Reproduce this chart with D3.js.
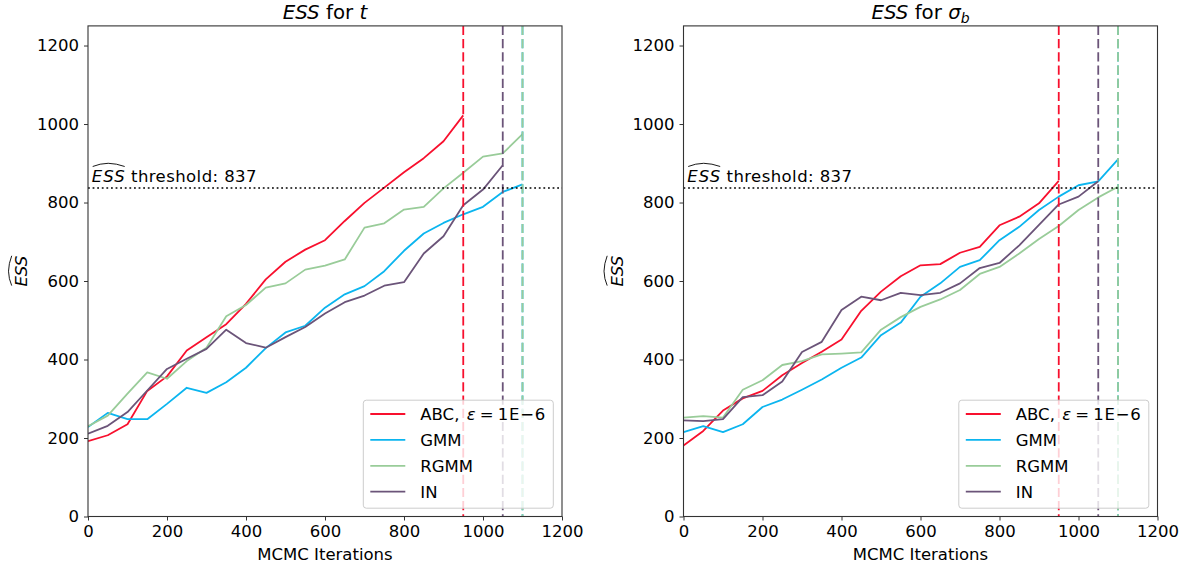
<!DOCTYPE html>
<html>
<head>
<meta charset="utf-8">
<script src="https://cdn.jsdelivr.net/npm/d3@7"></script>
<style>
  body { margin: 0; background: #fff; }
  text { font-family: "DejaVu Sans", sans-serif; fill: #000; }
</style>
</head>
<body>
<svg id="chart" width="1192" height="572"></svg>
<script>
// MCMC iteration grid shared by all runs
const iterations = [0, 50, 100, 150, 200, 250, 300, 350, 400, 450, 500, 550,
                    600, 650, 700, 750, 800, 850, 900, 950, 1000, 1050, 1100];

const methods = ["ABC", "GMM", "RGMM", "IN"];
const methodColors = ["#f8102e", "#0bb5ef", "#99cc99", "#6b5479"];
const stopIteration = [950, 1100, 1100, 1050];
const essThreshold = 837;

// ESS estimates for parameter t
const essT_ABC  = [192, 207, 235, 320, 357, 423, 457, 490, 542, 604, 649, 680, 704, 753, 799, 838, 877, 913, 956, 1022];
const essT_GMM  = [228, 264, 248, 248, 287, 328, 315, 342, 379, 429, 469, 486, 532, 566, 587, 625, 677, 721, 748, 770, 789, 827, 846];
const essT_RGMM = [230, 257, 313, 367, 351, 396, 430, 510, 539, 583, 594, 629, 639, 655, 736, 747, 782, 789, 836, 876, 917, 925, 974];
const essT_IN   = [211, 231, 266, 321, 376, 402, 427, 476, 442, 430, 457, 483, 517, 546, 563, 588, 597, 670, 714, 793, 833, 895];

// ESS estimates for parameter sigma_b
const essS_ABC  = [181, 218, 270, 301, 320, 360, 391, 420, 451, 524, 573, 612, 640, 643, 672, 687, 742, 764, 798, 855];
const essS_GMM  = [215, 230, 215, 235, 279, 298, 323, 349, 379, 405, 462, 494, 560, 594, 636, 653, 704, 738, 781, 815, 844, 854, 910];
const essS_RGMM = [252, 256, 252, 323, 347, 386, 396, 413, 415, 418, 476, 508, 534, 553, 577, 618, 636, 670, 707, 740, 781, 813, 840];
const essS_IN   = [245, 243, 248, 304, 309, 344, 419, 445, 526, 560, 551, 570, 564, 570, 594, 633, 646, 691, 743, 795, 815, 854];

const xTicks = [0, 200, 400, 600, 800, 1000, 1200];
const yTicks = [0, 200, 400, 600, 800, 1000, 1200];

const panels = [
  { series: [essT_ABC, essT_GMM, essT_RGMM, essT_IN], left: 88, right: 562, title: "t" },
  { series: [essS_ABC, essS_GMM, essS_RGMM, essS_IN], left: 683.5, right: 1157.5, title: "sigma" }
];

const svg = d3.select("#chart");
const TOP = 25.9, BOTTOM = 516.5;
const FS = 16.5;

// Draws a wide hat above characters [i0, i1] of a text element
function wideHat(parent, textEl, i0, i1, baseline, capH) {
  const node = textEl.node();
  const xa = node.getStartPositionOfChar(i0).x;
  const xb = node.getEndPositionOfChar(i1).x;
  const top = baseline - capH - 6.5;
  const h = 3.2;
  parent.append("path")
    .attr("d", `M${xa + 1},${top + h} Q${(xa + xb) / 2 - (xb - xa) * 0.25},${top + 0.2} ${(xa + xb) / 2},${top} Q${(xa + xb) / 2 + (xb - xa) * 0.25},${top + 0.2} ${xb},${top + h}`)
    .attr("fill", "none").attr("stroke", "#000").attr("stroke-width", 0.9);
}

panels.forEach((p) => {
  const g = svg.append("g");
  const x = d3.scaleLinear().domain([0, 1200]).range([p.left, p.right]);
  const y = d3.scaleLinear().domain([0, 1250]).range([BOTTOM, TOP]);

  const clipId = "clip" + p.left;
  g.append("clipPath").attr("id", clipId).append("rect")
    .attr("x", p.left).attr("y", TOP).attr("width", p.right - p.left).attr("height", BOTTOM - TOP);

  const plot = g.append("g").attr("clip-path", `url(#${clipId})`);

  const line = d3.line().x((d, i) => x(iterations[i])).y(d => y(d));

  p.series.forEach((vals, k) => {
    plot.append("path").datum(vals)
      .attr("d", line)
      .attr("fill", "none")
      .attr("stroke", methodColors[k])
      .attr("stroke-width", 1.8)
      .attr("stroke-linejoin", "round");
  });

  // stopping points of each method
  stopIteration.forEach((s, k) => {
    plot.append("line")
      .attr("x1", x(s)).attr("x2", x(s))
      .attr("y1", TOP).attr("y2", BOTTOM)
      .attr("stroke", methodColors[k])
      .attr("stroke-width", 1.8)
      .attr("stroke-dasharray", "9.2,4");
  });

  // threshold line
  plot.append("line")
    .attr("x1", p.left).attr("x2", p.right)
    .attr("y1", y(essThreshold)).attr("y2", y(essThreshold))
    .attr("stroke", "#000").attr("stroke-width", 1.7)
    .attr("stroke-dasharray", "1.8,2.8");

  const thrBase = y(essThreshold) - 6.2;
  const thr = g.append("text")
    .attr("y", thrBase)
    .attr("font-size", FS);
  thr.append("tspan").attr("x", p.left + 3.7).attr("font-style", "italic")
    .attr("textLength", 33).attr("lengthAdjust", "spacing").text("ESS");
  thr.append("tspan").attr("x", p.left + 43)
    .attr("textLength", 125.5).attr("lengthAdjust", "spacing").text("threshold: " + essThreshold);
  wideHat(g, thr, 0, 2, thrBase, 12);

  // axes
  const xAxis = d3.axisBottom(x).tickValues(xTicks).tickSize(4).tickPadding(5).tickFormat(d3.format("d"));
  const yAxis = d3.axisLeft(y).tickValues(yTicks).tickSize(4).tickPadding(5).tickFormat(d3.format("d"));
  const gx = g.append("g").attr("transform", `translate(0,${BOTTOM})`).call(xAxis);
  const gy = g.append("g").attr("transform", `translate(${p.left},0)`).call(yAxis);
  [gx, gy].forEach(a => {
    a.select(".domain").remove();
    a.selectAll(".tick line").attr("stroke", "#333").attr("stroke-width", 1);
    a.selectAll("text").attr("font-size", FS).attr("font-family", "DejaVu Sans").attr("fill", "#000");
  });

  // frame
  g.append("rect")
    .attr("x", p.left).attr("y", TOP)
    .attr("width", p.right - p.left).attr("height", BOTTOM - TOP)
    .attr("fill", "none").attr("stroke", "#333").attr("stroke-width", 1.1);

  // x label
  g.append("text")
    .attr("x", (p.left + p.right) / 2).attr("y", 560)
    .attr("text-anchor", "middle").attr("font-size", FS)
    .text("MCMC Iterations");

  // y label
  const yl = g.append("g").attr("transform", `translate(${p.left - 61},${(TOP + BOTTOM) / 2}) rotate(-90)`);
  const ylt = yl.append("text").attr("x", 0).attr("y", 0)
    .attr("text-anchor", "middle").attr("font-size", FS).attr("font-style", "italic").text("ESS");
  wideHat(yl, ylt, 0, 2, 0, 12);

  // title
  const tt = g.append("text")
    .attr("x", (p.left + p.right) / 2).attr("y", 18.5)
    .attr("text-anchor", "middle").attr("font-size", 19.8);
  tt.append("tspan").attr("font-style", "italic").text("ESS");
  tt.append("tspan").text(" for ");
  if (p.title === "t") {
    tt.append("tspan").attr("font-style", "italic").text("t");
  } else {
    tt.append("tspan").attr("font-style", "italic").text("σ");
    tt.append("tspan").attr("font-style", "italic").attr("font-size", 14).attr("dy", 4).text("b");
  }
  wideHat(g, tt, 0, 2, 18.5, 16.5);

  // legend
  const lgW = 190, lgH = 108;
  const lgX = p.right - 8.7 - lgW, lgY = 400.2;
  const lg = g.append("g");
  lg.append("rect")
    .attr("x", lgX).attr("y", lgY).attr("width", lgW).attr("height", lgH)
    .attr("rx", 3).attr("ry", 3)
    .attr("fill", "#fff").attr("fill-opacity", 0.8)
    .attr("stroke", "#cccccc").attr("stroke-width", 1);
  methods.forEach((m, k) => {
    const cy = lgY + 13.8 + k * 25.9;
    lg.append("line")
      .attr("x1", lgX + 7).attr("x2", lgX + 42)
      .attr("y1", cy).attr("y2", cy)
      .attr("stroke", methodColors[k]).attr("stroke-width", 1.8);
    const t = lg.append("text").attr("x", lgX + 57).attr("y", cy + 6).attr("font-size", FS);
    if (m === "ABC") {
      t.append("tspan").text("ABC,");
      t.append("tspan").attr("x", lgX + 103.4).attr("font-style", "italic").text("ε");
      t.append("tspan").attr("x", lgX + 116.4).text("=");
      t.append("tspan").attr("x", lgX + 134.5)
        .attr("textLength", 47.5).attr("lengthAdjust", "spacing").text("1E\u2212" + "6");
    } else {
      t.text(m);
    }
  });
});
</script>
</body>
</html>
